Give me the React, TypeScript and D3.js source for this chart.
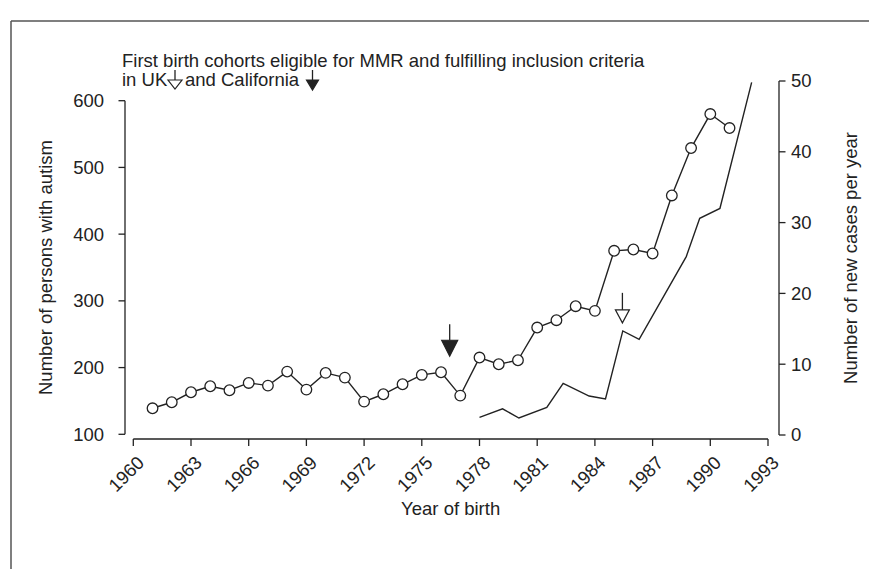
import React from "react";
import * as d3 from "d3";

const ukYears = [1961,1962,1963,1964,1965,1966,1967,1968,1969,1970,1971,1972,1973,1974,1975,1976,1977,1978,1979,1980,1981,1982,1983,1984,1985,1986,1987,1988,1989,1990,1991];
const ukCounts = [139,148,163,172,166,177,173,194,167,192,185,149,160,175,189,193,158,215,205,211,260,271,292,285,375,377,371,458,529,580,559];

const caYears = [1978.0,1979.2,1980.05,1981.5,1982.35,1983.7,1984.55,1985.45,1986.3,1988.75,1989.45,1990.5,1992.15];
const caCases = [2.5,3.7,2.4,3.9,7.3,5.5,5.1,14.7,13.5,25.2,30.6,32.0,49.8];

const xTicks = [1960,1963,1966,1969,1972,1975,1978,1981,1984,1987,1990,1993];
const leftTicks = [100,200,300,400,500,600];
const rightTicks = [0,10,20,30,40,50];

// arrows: [year, top value, tip value] on left axis
const caArrow = { year: 1976.45, top: 265, tip: 217 };
const ukArrow = { year: 1985.43, top: 312, tip: 267 };

const titleLine1 = "First birth cohorts eligible for MMR and fulfilling inclusion criteria";
const titleLine2a = "in UK";
const titleLine2b = "and California";

const W = 869, H = 569;
const FONT = "'Liberation Sans', Arial, Helvetica, sans-serif";
const INK = "#222";
const FS = 18.5;

export default function App() {
  const x = d3.scaleLinear().domain([1960, 1993]).range([133.3, 768]);
  const yL = d3.scaleLinear().domain([100, 600]).range([434.3, 100.7]);
  const yR = d3.scaleLinear().domain([0, 50]).range([435, 81]);
  const axisY = 439;
  const leftX = 125;
  const rightX = 779;

  const ukLine = d3.line<number>().x((_, i) => x(ukYears[i])).y((d) => yL(d));
  const caLine = d3.line<number>().x((_, i) => x(caYears[i])).y((d) => yR(d));

  const arrow = (cx: number, top: number, tip: number, filled: boolean, hw: number, th: number) => {
    const base = tip - th;
    return (
      <g>
        <line x1={cx} x2={cx} y1={top} y2={base} stroke={INK} strokeWidth={1.3} />
        <path d={`M${cx - hw},${base}L${cx + hw},${base}L${cx},${tip}Z`} fill={filled ? INK : "#fff"} stroke={INK} strokeWidth={1.2} />
      </g>
    );
  };

  return (
    <svg width={W} height={H} style={{ position: "absolute", left: 0, top: 0, background: "#fff" }} fontFamily={FONT}>
      <rect x={0} y={0} width={W} height={H} fill="#fff" />
      {/* frame */}
      <line x1={11} x2={W} y1={21} y2={21} stroke="#555" strokeWidth={1.5} />
      <line x1={11} x2={11} y1={21} y2={H} stroke="#555" strokeWidth={1.5} />

      {/* title */}
      <text x={122} y={67} fontSize={FS} fill={INK}>{titleLine1}</text>
      <text x={122} y={86} fontSize={FS} fill={INK}>{titleLine2a}</text>
      {arrow(175, 70, 89, false, 7, 9)}
      <text x={185} y={86} fontSize={FS} fill={INK}>{titleLine2b}</text>
      {arrow(312.5, 70, 90, true, 6, 10)}

      {/* left axis */}
      <line x1={leftX} x2={leftX} y1={yL(600)} y2={yL(100)} stroke={INK} strokeWidth={1.3} />
      {leftTicks.map((t) => (
        <g key={t}>
          <line x1={leftX - 6.5} x2={leftX} y1={yL(t)} y2={yL(t)} stroke={INK} strokeWidth={1.3} />
          <text x={104} y={yL(t)} dy="0.35em" textAnchor="end" fontSize={FS} fill={INK}>{t}</text>
        </g>
      ))}
      <text transform={`translate(52,${(yL(100) + yL(600)) / 2}) rotate(-90)`} textAnchor="middle" fontSize={FS} fill={INK}>Number of persons with autism</text>

      {/* right axis */}
      <line x1={rightX} x2={rightX} y1={yR(50)} y2={yR(0)} stroke={INK} strokeWidth={1.3} />
      {rightTicks.map((t) => (
        <g key={t}>
          <line x1={rightX} x2={rightX + 6.5} y1={yR(t)} y2={yR(t)} stroke={INK} strokeWidth={1.3} />
          <text x={791} y={yR(t)} dy="0.35em" textAnchor="start" fontSize={FS} fill={INK}>{t}</text>
        </g>
      ))}
      <text transform={`translate(857,${(yR(0) + yR(50)) / 2}) rotate(-90)`} textAnchor="middle" fontSize={FS} fill={INK}>Number of new cases per year</text>

      {/* x axis */}
      <line x1={x(1960)} x2={x(1993)} y1={axisY} y2={axisY} stroke={INK} strokeWidth={1.3} />
      {xTicks.map((t) => (
        <g key={t}>
          <line x1={x(t)} x2={x(t)} y1={axisY} y2={axisY + 7} stroke={INK} strokeWidth={1.3} />
          <text transform={`translate(${x(t) + 12},${464}) rotate(-45)`} textAnchor="end" fontSize={FS} fill={INK}>{t}</text>
        </g>
      ))}
      <text x={(x(1960) + x(1993)) / 2} y={515} textAnchor="middle" fontSize={FS} fill={INK}>Year of birth</text>

      {/* California line */}
      <path d={caLine(caCases) || ""} fill="none" stroke={INK} strokeWidth={1.4} />

      {/* UK series */}
      <path d={ukLine(ukCounts) || ""} fill="none" stroke={INK} strokeWidth={1.4} />
      {ukCounts.map((v, i) => (
        <circle key={i} cx={x(ukYears[i])} cy={yL(v)} r={5.3} fill="#fff" stroke={INK} strokeWidth={1.3} />
      ))}

      {/* arrows in plot */}
      {arrow(x(caArrow.year), yL(caArrow.top), yL(caArrow.tip), true, 8, 16)}
      {arrow(x(ukArrow.year), yL(ukArrow.top), yL(ukArrow.tip), false, 7, 13)}
    </svg>
  );
}
